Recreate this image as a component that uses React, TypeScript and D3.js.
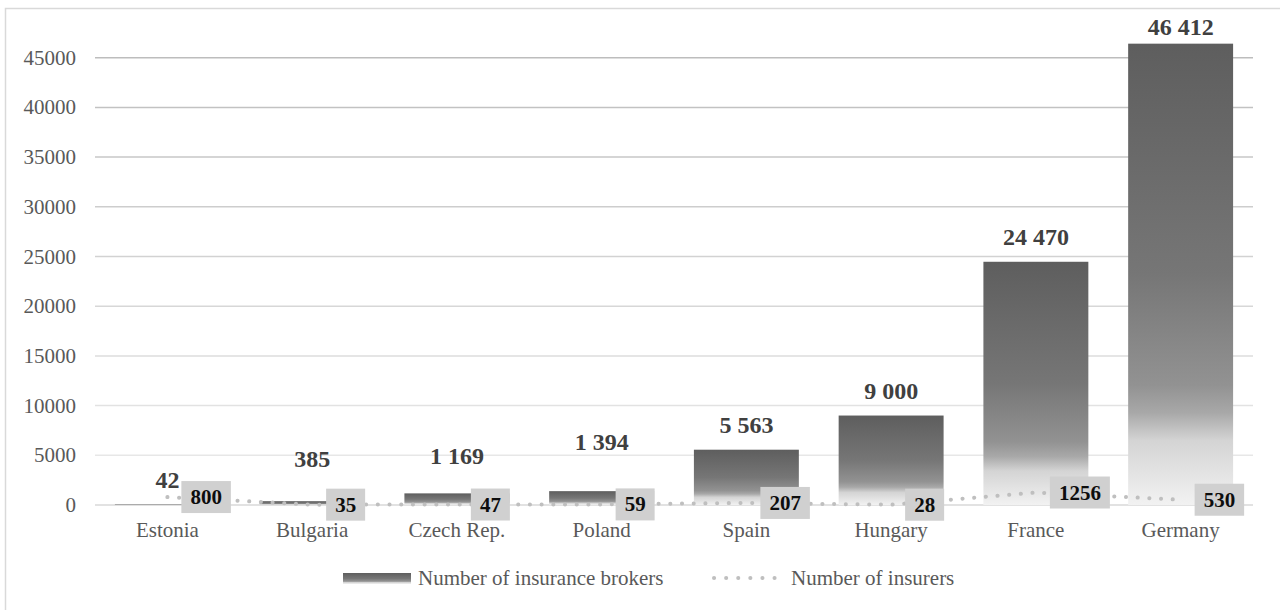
import { useEffect, useRef } from 'react';
import * as d3 from 'd3';

const countries = ['Estonia', 'Bulgaria', 'Czech Rep.', 'Poland', 'Spain', 'Hungary', 'France', 'Germany'];
const brokers = [42, 385, 1169, 1394, 5563, 9000, 24470, 46412];
const insurers = [800, 35, 47, 59, 207, 28, 1256, 530];
const yTicks = [0, 5000, 10000, 15000, 20000, 25000, 30000, 35000, 40000, 45000];
const seriesNames = ['Number of insurance brokers', 'Number of insurers'];

const FONT = '"Liberation Serif", "Times New Roman", serif';

const App = () => {
  const ref = useRef<SVGSVGElement>(null);

  useEffect(() => {
    if (!ref.current) return;
    const svg = d3.select(ref.current);
    svg.selectAll('*').remove();

    const width = 1280;
    const height = 610;
    const left = 95;
    const right = 1253;

    const x = d3.scaleBand<string>().domain(countries).range([left, right]).paddingInner(0.275).paddingOuter(0.1375);
    const y = d3.scaleLinear().domain([0, 50000]).range([505, 8]);
    const cx = (c: string) => (x(c) ?? 0) + x.bandwidth() / 2;

    const defs = svg.append('defs');
    const grad = defs.append('linearGradient')
      .attr('id', 'barGrad')
      .attr('x1', 0).attr('y1', 0).attr('x2', 0).attr('y2', 1);
    [
      [0, '#5e5e5e'],
      [0.5, '#767676'],
      [0.74, '#929292'],
      [0.8, '#a8a8a8'],
      [0.86, '#d4d4d4'],
      [1, '#f2f2f2'],
    ].forEach(([o, c]) => grad.append('stop').attr('offset', o as number).attr('stop-color', c as string));

    svg.append('rect')
      .attr('x', 0).attr('y', 0).attr('width', width).attr('height', height)
      .attr('fill', '#ffffff');

    // chart border (right/bottom edges fall outside the picture)
    svg.append('rect')
      .attr('x', 5.5).attr('y', 8.5).attr('width', width).attr('height', height)
      .attr('fill', 'none').attr('stroke', '#d9d9d9').attr('stroke-width', 1.5);

    // gridlines, darker toward the top
    const gridColor = d3.interpolateRgb('#ececec', '#bdbdbd');
    svg.append('g')
      .selectAll('line')
      .data(yTicks)
      .join('line')
      .attr('x1', left).attr('x2', right)
      .attr('y1', d => y(d)).attr('y2', d => y(d))
      .attr('stroke', d => d === 0 ? '#d9d9d9' : gridColor(d / 45000))
      .attr('stroke-width', 1.5);

    // y tick labels
    svg.append('g')
      .selectAll('text')
      .data(yTicks)
      .join('text')
      .attr('x', 76)
      .attr('y', d => y(d) + 7)
      .attr('text-anchor', 'end')
      .attr('font-family', FONT)
      .attr('font-size', 21)
      .attr('fill', '#595959')
      .text(d => String(d));

    // bars
    svg.append('g')
      .selectAll('rect')
      .data(brokers)
      .join('rect')
      .attr('x', (_, i) => x(countries[i]) ?? 0)
      .attr('y', d => y(d))
      .attr('width', x.bandwidth())
      .attr('height', d => y(0) - y(d))
      .attr('fill', 'url(#barGrad)');

    // category labels
    svg.append('g')
      .selectAll('text')
      .data(countries)
      .join('text')
      .attr('x', d => cx(d))
      .attr('y', 537)
      .attr('text-anchor', 'middle')
      .attr('font-family', FONT)
      .attr('font-size', 21)
      .attr('fill', '#595959')
      .text(d => d);

    // dotted line for insurers
    const line = d3.line<number>()
      .x((_, i) => cx(countries[i]))
      .y(d => y(d));
    svg.append('path')
      .datum(insurers)
      .attr('d', line)
      .attr('fill', 'none')
      .attr('stroke', '#bfbfbf')
      .attr('stroke-width', 4)
      .attr('stroke-linecap', 'round')
      .attr('stroke-dasharray', '0.1 11.6');

    // bar value labels (some lifted to clear the line labels, like the original)
    const fmt = (v: number) => d3.format(',')(v).replace(/,/g, ' ');
    const lift = [0, 17, 12, 24, 0, 0, 0, -8];
    svg.append('g')
      .selectAll('text')
      .data(brokers)
      .join('text')
      .attr('x', (_, i) => cx(countries[i]))
      .attr('y', (d, i) => y(d) - 17 - lift[i])
      .attr('text-anchor', 'middle')
      .attr('font-family', FONT)
      .attr('font-size', 24)
      .attr('font-weight', 'bold')
      .attr('fill', '#404040')
      .text(d => fmt(d));

    // insurer labels in gray boxes, right of each point
    const lbl = svg.append('g')
      .selectAll('g')
      .data(insurers)
      .join('g')
      .attr('transform', (d, i) => `translate(${cx(countries[i]) + 14},${y(d)})`);
    const txt = lbl.append('text')
      .attr('x', 9)
      .attr('y', 7)
      .attr('font-family', FONT)
      .attr('font-size', 21)
      .attr('font-weight', 'bold')
      .attr('fill', '#0d0d0d')
      .text(d => String(d));
    lbl.insert('rect', 'text')
      .attr('x', 0)
      .attr('y', -16)
      .attr('height', 32)
      .attr('width', function (_, i) {
        const node = txt.nodes()[i] as SVGTextElement;
        return node.getComputedTextLength() + 18;
      })
      .attr('fill', '#d0d0d0');

    // legend
    const lg = svg.append('g');
    lg.append('rect')
      .attr('x', 343).attr('y', 573).attr('width', 68).attr('height', 11)
      .attr('fill', 'url(#barGrad)');
    lg.append('text')
      .attr('x', 418).attr('y', 585)
      .attr('font-family', FONT).attr('font-size', 21).attr('fill', '#595959')
      .text(seriesNames[0]);
    lg.append('line')
      .attr('x1', 714).attr('x2', 776).attr('y1', 578).attr('y2', 578)
      .attr('stroke', '#bfbfbf')
      .attr('stroke-width', 4)
      .attr('stroke-linecap', 'round')
      .attr('stroke-dasharray', '0.1 12');
    lg.append('text')
      .attr('x', 791).attr('y', 585)
      .attr('font-family', FONT).attr('font-size', 21).attr('fill', '#595959')
      .text(seriesNames[1]);
  }, []);

  return (
    <svg
      ref={ref}
      width={1280}
      height={610}
      style={{ position: 'absolute', left: 0, top: 0, display: 'block' }}
    />
  );
};

export default App;
